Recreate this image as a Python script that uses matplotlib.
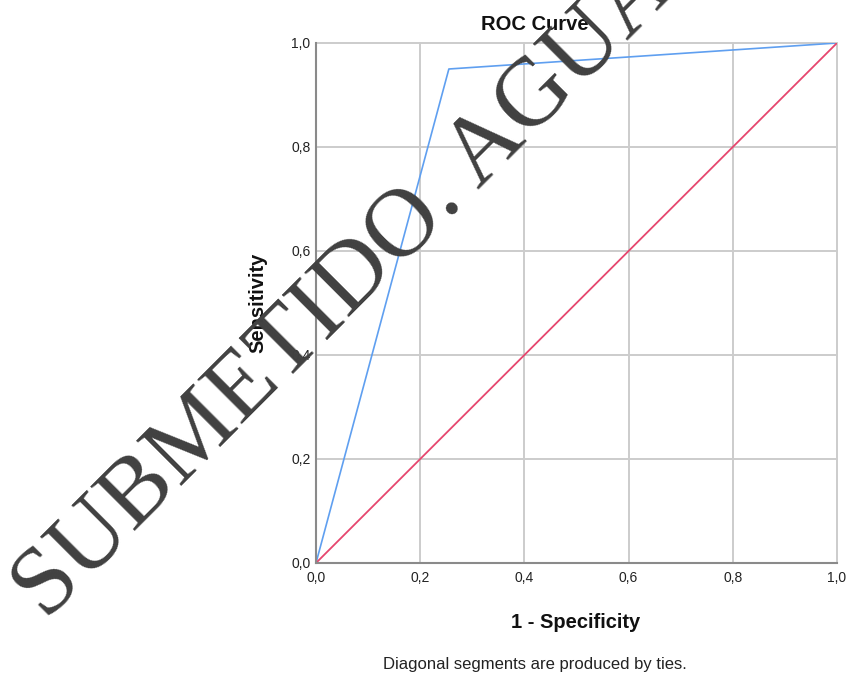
import matplotlib.pyplot as plt

# datos de la curva ROC
fpr = [0.0, 0.255, 1.0]          # 1 - especificidad
tpr = [0.0, 0.95, 1.0]           # sensibilidad
ref_x = [0.0, 1.0]               # linea de referencia
ref_y = [0.0, 1.0]
ticks = [0.0, 0.2, 0.4, 0.6, 0.8, 1.0]
tick_labels = ["0,0", "0,2", "0,4", "0,6", "0,8", "1,0"]

plt.rcParams['font.family'] = ['Liberation Sans', 'DejaVu Sans']

fig = plt.figure(figsize=(8.46, 6.75), dpi=100)
ax = fig.add_axes([316/846, 1-563/675, 521/846, 520/675])

ax.plot(fpr, tpr, color="#5f9ff0", lw=1.2, zorder=3)
ax.plot(ref_x, ref_y, color="#e6466e", lw=1.3, zorder=3)

ax.set_xlim(0, 1)
ax.set_ylim(0, 1)
ax.set_xticks(ticks)
ax.set_yticks(ticks)
ax.set_xticklabels(tick_labels)
ax.set_yticklabels(tick_labels)
ax.tick_params(length=0, labelsize=10, colors="#222222", pad=4)
ax.tick_params(axis="x", pad=6)
ax.grid(color="#cccccc", lw=1.4)
for gl in ax.get_xgridlines() + ax.get_ygridlines():
    gl.set_clip_on(False)
for s in ["top", "right"]:
    ax.spines[s].set_visible(False)
for s in ["left", "bottom"]:
    ax.spines[s].set_color("#8a8a8a")
    ax.spines[s].set_linewidth(1.5)
    ax.spines[s].set_zorder(4)

# textos
fig.text(535/846, 1-25/675, "ROC Curve", ha="center", va="center",
         fontsize=14.5, fontweight="bold", color="#111111")
fig.text(258/846, 1-303/675, "Sensitivity", ha="center", va="center",
         rotation=90, fontsize=14.5, fontweight="bold", color="#111111")
fig.text(576/846, 1-622/675, "1 - Specificity", ha="center", va="center",
         fontsize=14.5, fontweight="bold", color="#111111")
fig.text(535/846, 1-664/675, "Diagonal segments are produced by ties.",
         ha="center", va="center", fontsize=12, color="#222222")

# marca de agua
fig.text(46/846, 1-621/675, "SUBMETIDO. AGUARDANDO", ha="left", va="baseline",
         rotation=45, rotation_mode="anchor", fontsize=70,
         family="Liberation Serif", color="#404040", zorder=10)

fig.savefig("out.png", dpi=100)
